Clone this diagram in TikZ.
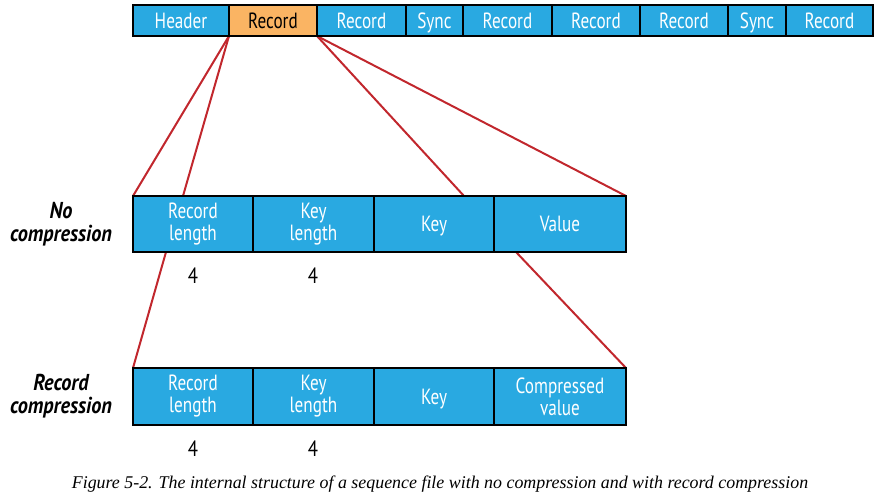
\documentclass[tikz,border=0pt]{standalone}
\usepackage{fontspec}
\setmainfont{Liberation Serif}
\newfontfamily\condfont[FakeStretch=0.78]{PT Sans}
\newfontfamily\condbold[FakeStretch=0.88,BoldItalicFont={PT Sans Bold Italic}]{PT Sans}
\newfontfamily\numfont[FakeStretch=0.85]{PT Sans}
\usetikzlibrary{backgrounds,calc}
\definecolor{cellblue}{HTML}{29A9E1}
\definecolor{cellorange}{HTML}{FAB463}
\definecolor{linkred}{HTML}{C1272D}
\tikzset{
  cellbox/.style={draw=black, line width=1.8pt, fill=cellblue, text=white, inner sep=0pt, outer sep=0pt,
    font=\condfont\fontsize{22}{22}\selectfont, align=center},
  onecell/.style={cellbox, text height=15.4pt, text depth=0pt},
  hicell/.style={onecell, fill=cellorange, text=black},
  rowlabel/.style={font=\condbold\fontsize{23}{23}\selectfont\bfseries\itshape, align=center},
  numlabel/.style={font=\numfont\fontsize{22}{22}\selectfont},
  link/.style={draw=linkred, line width=2pt},
}
\begin{document}
\begin{tikzpicture}[x=1pt,y=-1pt]
\useasboundingbox (0,0) rectangle (881,495);
% top bar
\begin{scope}[minimum height=31pt]
\node[onecell, minimum width=96pt] (hdr) at (181,20.5) {Header};
\node[hicell, minimum width=88pt] (rec1) at (273,20.5) {Record};
\node[onecell, minimum width=89pt] (rec2) at (361.5,20.5) {Record};
\node[onecell, minimum width=57pt] (sync1) at (434.5,20.5) {Sync};
\node[onecell, minimum width=89pt] (rec3) at (507.5,20.5) {Record};
\node[onecell, minimum width=88pt] (rec4) at (596,20.5) {Record};
\node[onecell, minimum width=88pt] (rec5) at (684,20.5) {Record};
\node[onecell, minimum width=58pt] (sync2) at (757,20.5) {Sync};
\node[onecell, minimum width=87pt] (rec6) at (829.5,20.5) {Record};
\end{scope}
% no compression row
\begin{scope}[minimum height=56pt]
\node[cellbox, minimum width=120pt] (nrl) at (193,224) {Record\\length};
\node[cellbox, minimum width=121pt] (nkl) at (313.5,224) {Key\\length};
\node[onecell, minimum width=120pt] (nkey) at (434,224) {Key};
\node[onecell, minimum width=132pt] (nval) at (560,224) {Value};
\end{scope}
% record compression row
\begin{scope}[minimum height=57pt]
\node[cellbox, minimum width=120pt] (crl) at (193,396.5) {Record\\length};
\node[cellbox, minimum width=121pt] (ckl) at (313.5,396.5) {Key\\length};
\node[onecell, minimum width=120pt] (ckey) at (434,396.5) {Key};
\node[cellbox, minimum width=132pt] (cval) at (560,396.5) {Compressed\\value};
\end{scope}
% row labels
\node[rowlabel] (lab1) at (61,224) {No\\compression};
\node[rowlabel] (lab2) at (61,396.5) {Record\\compression};
% numbers
\node[numlabel] (n1) at (193,276) {4};
\node[numlabel] (n2) at (313,276) {4};
\node[numlabel] (n3) at (193,449) {4};
\node[numlabel] (n4) at (313,449) {4};
% caption
\node[font=\fontsize{17.9}{20}\selectfont\itshape] (cap) at (440,484) {Figure 5-2. The internal structure of a sequence file with no compression and with record compression};
% link anchors
\coordinate (a1) at ($(nrl.north west)+(50,0)$);
\coordinate (a2) at ($(nkey.north west)+(90,0)$);
\coordinate (a3) at ($(nrl.south west)+(33,0)$);
\coordinate (a4) at ($(nval.south west)+(22,0)$);
\begin{pgfonlayer}{background}
\draw[link] (rec1.south west) -- (nrl.north west);
\draw[link] (rec1.south west) -- (a1);
\draw[link] (rec1.south east) -- (a2);
\draw[link] (rec1.south east) -- (nval.north east);
\draw[link] (a3) -- (crl.north west);
\draw[link] (a4) -- (cval.north east);
\end{pgfonlayer}
\end{tikzpicture}
\end{document}
